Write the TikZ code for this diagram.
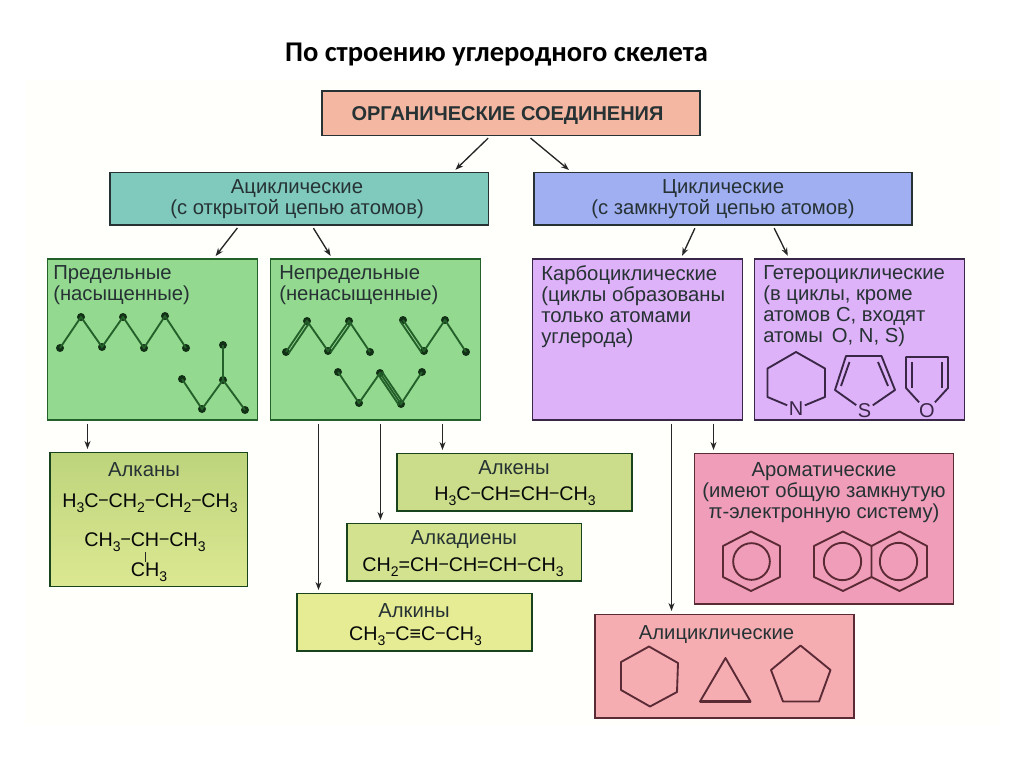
\documentclass[tikz,border=0pt]{standalone}
\usepackage{fontspec}
\setmainfont{Liberation Sans}
\newfontfamily\titlefont{Carlito}
\usetikzlibrary{fit,arrows.meta}
\definecolor{ink}{HTML}{263234}
\definecolor{cTop}{HTML}{F4B7A2}
\definecolor{cAcy}{HTML}{7FC9BD}
\definecolor{cCyc}{HTML}{A0AEF2}
\definecolor{cGrn}{HTML}{93D98F}
\definecolor{cPur}{HTML}{DEB2F8}
\definecolor{cAlkT}{HTML}{BDD47C}
\definecolor{cAlkB}{HTML}{DCE892}
\definecolor{cAlken}{HTML}{CBDD8A}
\definecolor{cDien}{HTML}{D2E28E}
\definecolor{cAlkin}{HTML}{E6EC94}
\definecolor{cAro}{HTML}{F09DB9}
\definecolor{cAli}{HTML}{F5ADB2}
\definecolor{bGrn}{HTML}{24602A}
\definecolor{bPur}{HTML}{3A2748}
\definecolor{bRed}{HTML}{5A2A35}
\newcommand{\lowsub}[1]{\raisebox{-0.28em}{\fontsize{10.5}{10.5}\selectfont #1}}
\newcommand{\bnd}{\kern0.5pt\raisebox{0.1em}{\scalebox{0.8}[1]{–}}\kern0.5pt}
\tikzset{
  boxn/.style={draw=#1,line width=1.3pt,inner sep=0pt},
  boxn/.default=ink,
  lbl/.style={text=ink,font=\fontsize{15.2}{15.8}\selectfont,inner sep=0pt},
  fml/.style={text=black!85!ink,font=\fontsize{14.8}{15}\selectfont,inner sep=0pt},
  arr/.style={-{Stealth[length=6pt,width=4.5pt]},line width=1pt,black!85,shorten <=2pt,shorten >=2pt},
  atom/.style={circle,fill=#1,inner sep=0pt,minimum size=6pt},
  bondg/.style={bGrn,line width=1.4pt},
  ringp/.style={bPur,line width=1.4pt,line join=round},
  ringr/.style={bRed,line width=1.4pt,line join=round},
  hetat/.style={font=\fontsize{15}{15}\selectfont,text=bPur,inner sep=1pt},
}
\begin{document}
\begin{tikzpicture}[x=0.75pt,y=-0.75pt]
\useasboundingbox (0,0) rectangle (1024,767);
\fill[white] (0,0) rectangle (1024,767);
\fill[black!1!yellow!1!white] (25,80) rectangle (1000,725);

\node[font=\titlefont\bfseries\fontsize{21.4}{24}\selectfont,inner sep=0pt] (title) at (496.5,55) {По строению углеродного скелета};

% boxes
\node[boxn,fill=cTop,fit={(322,91)(700,135.5)}] (top) {};
\node[boxn,fill=cAcy,fit={(110,172.5)(488.5,225)}] (acy) {};
\node[boxn,fill=cCyc,fit={(534,172.5)(912,225)}] (cyc) {};
\node[boxn=bGrn,fill=cGrn,fit={(47.5,259)(257.5,420)}] (sat) {};
\node[boxn=bGrn,fill=cGrn,fit={(270.5,259)(480.5,420)}] (unsat) {};
\node[boxn=bPur,fill=cPur,fit={(532.5,259)(742.5,420)}] (carbo) {};
\node[boxn=bPur,fill=cPur,fit={(754.5,259)(964.5,420)}] (hetero) {};
\node[boxn=bGrn!70!black,top color=cAlkT,bottom color=cAlkB,fit={(50,452.5)(247.5,586.5)}] (alkan) {};
\node[boxn=bGrn!70!black,fill=cAlken,fit={(397,453.5)(632,511)}] (alken) {};
\node[boxn=bGrn!70!black,fill=cDien,fit={(347,523.5)(581.5,581)}] (dien) {};
\node[boxn=bGrn!70!black,fill=cAlkin,fit={(297,593.5)(532,651)}] (alkin) {};
\node[boxn=bRed,fill=cAro,fit={(694.5,453.5)(953.5,604)}] (aro) {};
\node[boxn=bRed,fill=cAli,fit={(595,614.5)(854,718)}] (ali) {};

% labels
\node[lbl,font=\bfseries\fontsize{15}{15}\selectfont] (tTop) at (507.5,116) {ОРГАНИЧЕСКИЕ СОЕДИНЕНИЯ};
\node[lbl,align=center] (tAcy) at (297,199.5) {Ациклические\\(с открытой цепью атомов)};
\node[lbl,align=center] (tCyc) at (723,199.5) {Циклические\\(с замкнутой цепью атомов)};
\node[lbl,align=left,anchor=north west] (tSat) at (53,265) {Предельные\\(насыщенные)};
\node[lbl,align=left,anchor=north west] (tUnsat) at (279,265) {Непредельные\\(ненасыщенные)};
\node[lbl,align=left,anchor=north west] (tCarbo) at (541,265) {Карбоциклические\\(циклы образованы\\только атомами\\углерода)};
\node[lbl,align=left,anchor=north west] (tHet) at (763,265) {Гетероциклические\\(в циклы, кроме\\атомов C, входят\\атомы\, O, N, S)};
\node[lbl] (tAlkan) at (144,470) {Алканы};
\node[fml] (f1) at (150,503) {H\lowsub{3}C\bnd CH\lowsub{2}\bnd CH\lowsub{2}\bnd CH\lowsub{3}};
\node[fml] (f2) at (145,542) {CH\lowsub{3}\bnd CH\bnd CH\lowsub{3}};
\node[fml] (f3) at (149,572) {CH\lowsub{3}};
\draw[black!85,line width=1pt] (145.5,552) -- (f3.north -| 145.5,0);
\node[lbl] (tAlken) at (514,468) {Алкены};
\node[fml] (f4) at (515,496) {H\lowsub{3}C\bnd CH=CH\bnd CH\lowsub{3}};
\node[lbl] (tDien) at (464,540) {Алкадиены};
\node[fml] (f5) at (463,567) {CH\lowsub{2}=CH\bnd CH=CH\bnd CH\lowsub{3}};
\node[lbl] (tAlkin) at (414,611) {Алкины};
\node[fml] (f6) at (415.5,636) {CH\lowsub{3}\bnd C≡C\bnd CH\lowsub{3}};
\node[lbl,align=center,anchor=north] (tAro) at (824,462) {Ароматические\\(имеют общую замкнутую\\π-электронную систему)};
\node[lbl] (tAli) at (716.5,635) {Алициклические};

% arrows
\draw[arr] (490,0 |- top.south) -- (453.5,0 |- acy.north);
\draw[arr] (528.5,0 |- top.south) -- (571,0 |- acy.north);
\draw[arr] (239,0 |- acy.south) -- (214,0 |- sat.north);
\draw[arr] (312,0 |- acy.south) -- (332,0 |- unsat.north);
\draw[arr] (696,0 |- cyc.south) -- (681,0 |- carbo.north);
\draw[arr] (773,0 |- cyc.south) -- (789,0 |- hetero.north);
\draw[arr] (87.5,0 |- sat.south) -- (87.5,0 |- alkan.north);
\draw[arr] (318.5,0 |- unsat.south) -- (318.5,0 |- alkin.north);
\draw[arr] (380.5,0 |- unsat.south) -- (380.5,0 |- dien.north);
\draw[arr] (442.5,0 |- unsat.south) -- (442.5,0 |- alken.north);
\draw[arr] (671.5,0 |- carbo.south) -- (671.5,0 |- ali.north);
\draw[arr] (713.5,0 |- carbo.south) -- (713.5,0 |- aro.north);

% saturated chains
\foreach \n/\p in {a1/{60,348},a2/{81,317},a3/{102,347},a4/{123,317},a5/{144,348},a6/{165,316},a7/{186,348},
  b1/{182,379},b2/{202,409},b3/{223,380},b4/{223,345},b5/{245,410},
  c1/{286,352},c2/{307,321},c3/{328,351},c4/{349,321},c5/{370,352},
  d1/{403,320},d2/{424,351},d3/{445,320},d4/{466,352},
  e1/{338,372},e2/{359,403},e3/{380,373},e4/{401,404},e5/{422,372}}
  \node[atom=bGrn!50!black] (\n) at (\p) {};
\draw[bondg] (a1.center)--(a2.center)--(a3.center)--(a4.center)--(a5.center)--(a6.center)--(a7.center);
\draw[bondg] (b1.center)--(b2.center)--(b3.center)--(b5.center) (b3.center)--(b4.center);
\draw[bondg] (c1.center)--(c2.center)--(c3.center)--(c4.center)--(c5.center);
\draw[bondg] ([shift={(2.5,1.5)}]c1.center)--([shift={(2.5,1.5)}]c2.center);
\draw[bondg] ([shift={(2.5,1.5)}]c3.center)--([shift={(2.5,1.5)}]c4.center);
\draw[bondg] (d1.center)--(d2.center)--(d3.center)--(d4.center);
\draw[bondg] ([shift={(-2.5,1.5)}]d1.center)--([shift={(-2.5,1.5)}]d2.center);
\draw[bondg] (e1.center)--(e2.center)--(e3.center)--(e4.center)--(e5.center);
\draw[bondg] ([shift={(2,-1.2)}]e3.center)--([shift={(2,-1.2)}]e4.center);
\draw[bondg] ([shift={(-2,1.2)}]e3.center)--([shift={(-2,1.2)}]e4.center);

% heterocycles
\node[hetat] (N) at (796,409) {N};
\node[hetat] (S) at (864.5,411) {S};
\node[hetat] (O) at (927,411) {O};
\coordinate (p1) at (796,352); \coordinate (p2) at (825,368.5); \coordinate (p3) at (825,397);
\coordinate (p4) at (767.5,397); \coordinate (p5) at (767.5,368.5);
\draw[ringp] (N)--(p3)--(p2)--(p1)--(p5)--(p4)--(N);
\coordinate (t1) at (846,356); \coordinate (t2) at (881.5,356); \coordinate (t3) at (895,390); \coordinate (t4) at (835,390);
\draw[ringp] (S)--(t3)--(t2)--(t1)--(t4)--(S);
\draw[ringp] (849.5,362)--(841,386);
\draw[ringp] (878,362)--(888,386);
\coordinate (u1) at (906,357); \coordinate (u2) at (948,357); \coordinate (u3) at (948,388); \coordinate (u4) at (906,388);
\draw[ringp] (O)--(u3)--(u2)--(u1)--(u4)--(O);
\draw[ringp] (912,362)--(912,388);
\draw[ringp] (942,362)--(942,388);

% aromatic rings
\draw[ringr] (751,531.5)--(780,546)--(780,577)--(751,591)--(723,577)--(723,546)--cycle;
\node[circle,draw=bRed,line width=1.4pt,inner sep=0pt,minimum size=27.5pt] (ar1) at (751.5,561.5) {};
\draw[ringr] (843,531.5)--(871.5,546)--(871.5,577)--(843,591)--(814,577)--(814,546)--cycle;
\draw[ringr] (871.5,546)--(899.5,531.5)--(927,546)--(927,577)--(899.5,591)--(871.5,577);
\node[circle,draw=bRed,line width=1.4pt,inner sep=0pt,minimum size=28pt] (ar2) at (842.5,561.5) {};
\node[circle,draw=bRed,line width=1.4pt,inner sep=0pt,minimum size=28pt] (ar3) at (898.5,561.5) {};

% alicyclic rings
\draw[ringr] (649,646.5)--(678,663)--(677,692)--(650,706.5)--(621,690)--(621,662)--cycle;
\draw[ringr] (725.5,658)--(750.5,701.5)--(700,701.5)--cycle;
\draw[ringr,line width=1.8pt] (700,701.5)--(750.5,701.5);
\draw[ringr] (800.5,645.5)--(830.5,670)--(819,701.5)--(783,701.5)--(771,670)--cycle;
\end{tikzpicture}
\end{document}
